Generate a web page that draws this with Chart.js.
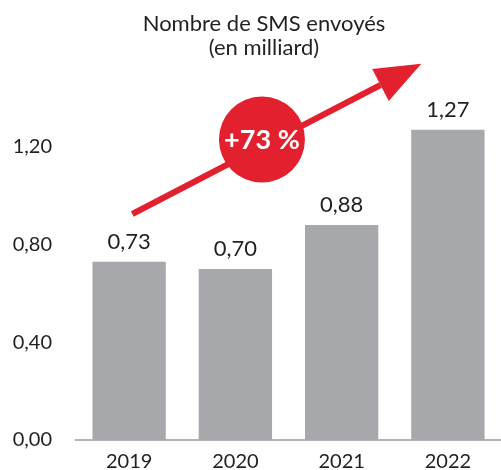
<!DOCTYPE html>
<html>
<head>
<meta charset="utf-8">
<script src="https://cdn.jsdelivr.net/npm/chart.js@4"></script>
<style>
  html, body { margin: 0; padding: 0; background: #fff; }
  #wrap { width: 501px; height: 470px; position: relative; }
</style>
</head>
<body>
<div id="wrap"><canvas id="smsChart"></canvas></div>
<script>
// données
var annees = ['2019', '2020', '2021', '2022'];
var smsEnvoyes = [0.73, 0.70, 0.88, 1.27];
var graduations = [0, 0.4, 0.8, 1.2];
var titre = ['Nombre de SMS envoyés', '(en milliard)'];
var hausse = '+73 %';

var rouge = '#e3202e';
var gris = '#a7a8ab';
var texte = '#231f20';
var police = 'Lato, "Open Sans", sans-serif';

function virgule(v, n) {
    return v.toFixed(n).replace('.', ',');
}

// titre + étiquettes + flèche
var decorPlugin = {
    id: 'decor',
    afterDatasetsDraw: function(chart) {
        var ctx = chart.ctx;
        var x = chart.scales.x;
        var y = chart.scales.y;

        ctx.save();
        ctx.fillStyle = texte;
        ctx.textAlign = 'center';
        ctx.textBaseline = 'middle';
        ctx.font = '22px ' + police;
        ctx.fillText(titre[0], 264, 24);
        ctx.fillText(titre[1], 264, 48);

        // valeurs au-dessus des barres
        ctx.font = '22px ' + police;
        chart.getDatasetMeta(0).data.forEach(function(bar, i) {
            ctx.fillText(virgule(smsEnvoyes[i], 2), bar.x, bar.y - 20);
        });

        // flèche
        var x0 = x.getPixelForValue(0.03), y0 = y.getPixelForValue(0.925);
        var x1 = x.getPixelForValue(2.75), y1 = y.getPixelForValue(1.54);
        var ang = Math.atan2(y1 - y0, x1 - x0);
        var lg = 46, lar = 18;
        var bx = x1 - lg * Math.cos(ang), by = y1 - lg * Math.sin(ang);
        ctx.strokeStyle = rouge;
        ctx.lineWidth = 6;
        ctx.beginPath();
        ctx.moveTo(x0, y0);
        ctx.lineTo(bx, by);
        ctx.stroke();
        ctx.fillStyle = rouge;
        ctx.beginPath();
        ctx.moveTo(x1, y1);
        ctx.lineTo(bx + lar * Math.sin(ang), by - lar * Math.cos(ang));
        ctx.lineTo(bx - lar * Math.sin(ang), by + lar * Math.cos(ang));
        ctx.closePath();
        ctx.fill();

        // cercle
        var cx = x.getPixelForValue(1.25), cy = y.getPixelForValue(1.23);
        ctx.beginPath();
        ctx.arc(cx, cy, 43, 0, Math.PI * 2);
        ctx.fill();
        ctx.fillStyle = '#fff';
        ctx.font = 'bold 27px ' + police;
        ctx.fillText(hausse, cx, cy + 1);
        ctx.restore();
    }
};

var ctx = document.getElementById('smsChart').getContext('2d');
var chart = new Chart(ctx, {
    type: 'bar',
    data: {
        labels: annees,
        datasets: [{
            data: smsEnvoyes,
            backgroundColor: gris,
            categoryPercentage: 1,
            barPercentage: 0.69
        }]
    },
    options: {
        responsive: true,
        maintainAspectRatio: false,
        animation: false,
        layout: { padding: { top: 98, left: 8, right: 0, bottom: 0 } },
        plugins: {
            legend: { display: false },
            tooltip: { enabled: false },
            title: { display: false }
        },
        scales: {
            x: {
                grid: { display: false },
                border: { display: true, color: '#b4b4b6', width: 2 },
                afterFit: function(axis) { axis.height = 30; },
                ticks: { color: texte, font: { family: police, size: 20, lineHeight: 1 }, padding: 4 }
            },
            y: {
                min: 0,
                max: 1.4,
                grid: { display: false },
                border: { display: false },
                afterFit: function(axis) { axis.width = 68; },
                afterBuildTicks: function(axis) {
                    axis.ticks = graduations.map(function(v) { return { value: v }; });
                },
                ticks: {
                    color: texte,
                    padding: 16,
                    font: { family: police, size: 20 },
                    callback: function(v) { return virgule(v, 2); }
                }
            }
        }
    },
    plugins: [decorPlugin]
});
</script>
</body>
</html>
